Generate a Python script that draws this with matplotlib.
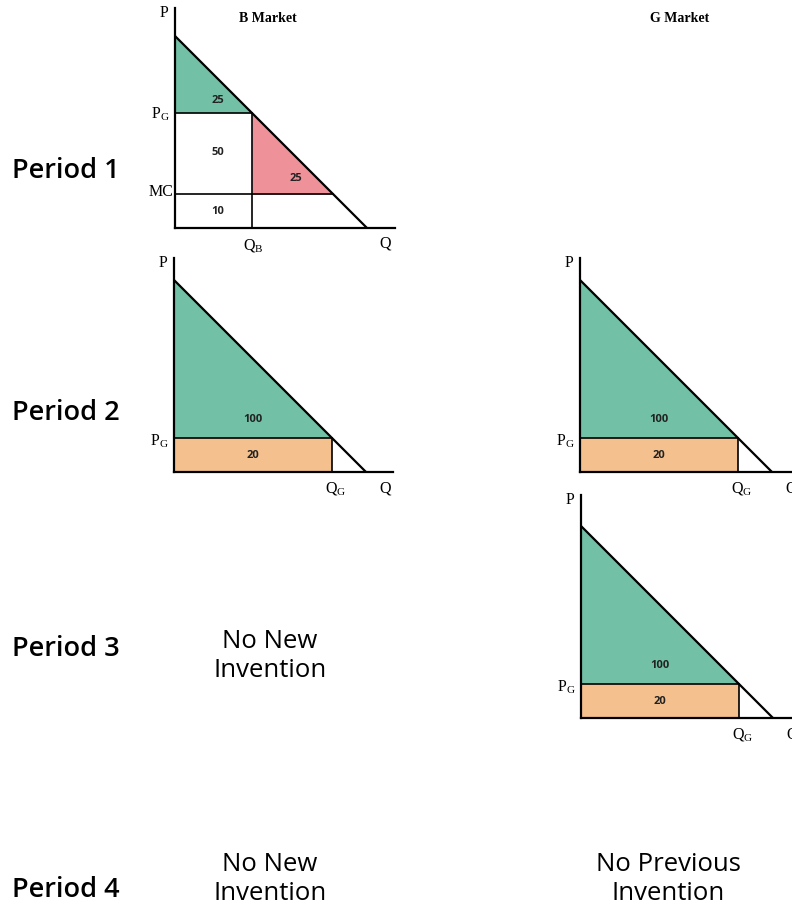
import matplotlib
matplotlib.use("Agg")
import matplotlib.pyplot as plt
import numpy as np

# demand curve P = a - Q, same in every panel
demand_a = 10.0
demand_qmax = 10.0

# period 1, B market (monopoly)
p1_price = 6.0
p1_mc = 1.75
p1_qb = 4.0
p1_labels = ["25", "50", "25", "10"]

# periods 2 and 3 (competitive price)
p2_price = 1.75
p2_qg = 8.25
p2_labels = ["100", "20"]

period_names = ["Period 1", "Period 2", "Period 3", "Period 4"]
market_names = ["B Market", "G Market"]

GREEN = "#72c0a6"
PINK = "#ee9199"
ORANGE = "#f4c08e"

plt.rcParams["mathtext.fontset"] = "custom"
plt.rcParams["mathtext.rm"] = "Liberation Serif"
plt.rcParams["mathtext.it"] = "Liberation Serif:italic"

W, H = 792, 913
fig = plt.figure(figsize=(W / 100, H / 100), dpi=100)

SCALE = 19.2  # pixels per unit


def demand(q):
    return demand_a - demand_a / demand_qmax * np.asarray(q)


def panel(x0, y0, ytop, xend):
    """Axes with origin at pixel (x0, y0) measured from the top-left."""
    size = 11.7 * SCALE
    ax = fig.add_axes([x0 / W, 1 - y0 / H, size / W, size / H])
    ax.set_xlim(0, 11.7)
    ax.set_ylim(0, 11.7)
    for s in ["top", "right"]:
        ax.spines[s].set_visible(False)
    ax.spines["left"].set_bounds(0, ytop)
    ax.spines["bottom"].set_bounds(0, xend)
    ax.spines["left"].set_linewidth(1.6)
    ax.spines["bottom"].set_linewidth(1.6)
    ax.set_xticks([])
    ax.set_yticks([])
    ax.patch.set_alpha(0)
    q = np.linspace(0, demand_qmax, 50)
    ax.plot(q, demand(q), color="black", lw=1.6, zorder=5)
    ax.text(-0.35, ytop - 0.25, "P", ha="right", va="center",
            family="Liberation Serif", fontsize=11.5)
    return ax


def serif(ax, x, y, s, ha="center"):
    ax.text(x, y, s, ha=ha, va="center", family="Liberation Serif",
            fontsize=11.5, clip_on=False)


def num(ax, x, y, s):
    ax.text(x, y, s, ha="center", va="center", family="Open Sans",
            fontweight="bold", fontsize=8, color="#222222")


def competitive(ax):
    qg, pg = p2_qg, p2_price
    q = np.linspace(0, qg, 50)
    ax.fill_between(q, demand(q), pg, color=GREEN, lw=0)
    ax.fill_between([0, qg], 0, pg, color=ORANGE, lw=0)
    ax.plot([0, qg], [pg, pg], color="black", lw=1.2)
    ax.plot([qg, qg], [0, pg], color="black", lw=1.2)
    num(ax, qg / 2, pg + 1.0, p2_labels[0])
    num(ax, qg / 2, pg / 2, p2_labels[1])
    serif(ax, -0.25, pg - 0.15, r"P$_\mathrm{G}$", ha="right")
    serif(ax, qg + 0.15, -0.85, r"Q$_\mathrm{G}$")
    serif(ax, 11.0, -0.85, "Q")


# Period 1, B market
ax = panel(175, 228, 11.45, 11.45)
qm = (demand_a - p1_mc) * demand_qmax / demand_a
q = np.linspace(0, p1_qb, 50)
ax.fill_between(q, demand(q), p1_price, color=GREEN, lw=0)
q = np.linspace(p1_qb, qm, 50)
ax.fill_between(q, demand(q), p1_mc, color=PINK, lw=0)
ax.plot([0, p1_qb], [p1_price, p1_price], color="black", lw=1.2)
ax.plot([p1_qb, p1_qb], [0, p1_price], color="black", lw=1.2)
ax.plot([0, qm], [p1_mc, p1_mc], color="black", lw=1.2)
num(ax, 2.25, p1_price + 0.65, p1_labels[0])
num(ax, 2.25, (p1_price + p1_mc) / 2 + 0.05, p1_labels[1])
num(ax, 6.3, p1_mc + 0.85, p1_labels[2])
num(ax, 2.25, p1_mc / 2, p1_labels[3])
serif(ax, -0.25, p1_price - 0.1, r"P$_\mathrm{G}$", ha="right")
serif(ax, -0.1, p1_mc + 0.1, "MC", ha="right")
serif(ax, p1_qb + 0.1, -0.9, r"Q$_\mathrm{B}$")
serif(ax, 10.95, -0.8, "Q")

# Period 2, B market
ax = panel(174, 472, 11.15, 11.4)
competitive(ax)

# Period 2, G market
ax = panel(580, 472, 11.15, 12.0)
competitive(ax)

# Period 3, G market
ax = panel(581, 718, 11.6, 12.0)
competitive(ax)

# market titles
for name, x in zip(market_names, [268, 680]):
    fig.text(x / W, 1 - 18 / H, name, ha="center", va="center",
             family="Liberation Serif", fontweight="bold", fontsize=10)

# period labels
for name, y in zip(period_names, [171, 413, 649, 890]):
    fig.text(12 / W, 1 - y / H, name, ha="left", va="center",
             family="Open Sans", fontweight="semibold", fontsize=19.5)

for s, x, y in [("No New\nInvention", 270, 656),
                ("No New\nInvention", 270, 879),
                ("No Previous\nInvention", 668, 879)]:
    fig.text(x / W, 1 - y / H, s, ha="center", va="center",
             family="Open Sans", fontsize=18.5, linespacing=1.25)

fig.savefig("out.png", dpi=100)
